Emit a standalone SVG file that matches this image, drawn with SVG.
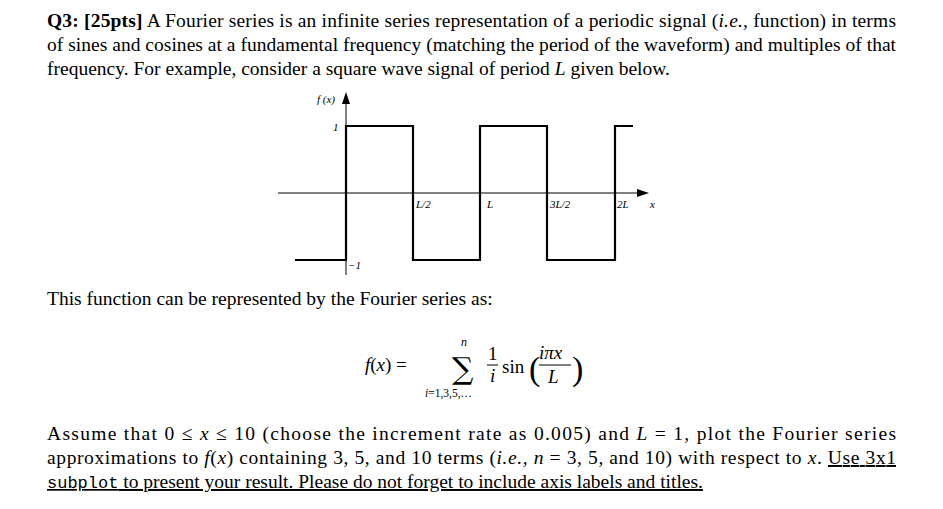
<svg xmlns="http://www.w3.org/2000/svg" width="943" height="509" viewBox="0 0 943 509">
<style>
.t{font-family:"Liberation Serif",serif;font-size:19.5px;fill:#000}
.s{font-family:"Liberation Serif",serif;font-size:11px;font-style:italic;fill:#000}
.m{font-family:"Liberation Serif","DejaVu Serif",serif;font-style:italic;fill:#000}
.w{fill:none;stroke:#000;stroke-width:2.2}
.a{fill:none;stroke:#000;stroke-width:1}
</style>
<rect width="943" height="509" fill="#fff"/>
<g id="text">
<text class="t" x="47" y="27" textLength="849" lengthAdjust="spacing"><tspan font-weight="bold">Q3: [25pts]</tspan> A Fourier series is an infinite series representation of a periodic signal (<tspan font-style="italic">i.e.,</tspan> function) in terms</text>
<text class="t" x="47" y="51" textLength="849" lengthAdjust="spacing">of sines and cosines at a fundamental frequency (matching the period of the waveform) and multiples of that</text>
<text class="t" x="47" y="75">frequency. For example, consider a square wave signal of period <tspan font-style="italic">L</tspan> given below.</text>
<text class="t" x="47" y="305">This function can be represented by the Fourier series as:</text>
<text class="t" x="47" y="440" textLength="849" lengthAdjust="spacing">Assume that  0 ≤ <tspan font-style="italic">x</tspan> ≤ 10  (choose the increment rate as 0.005) and  <tspan font-style="italic">L</tspan> = 1,  plot the Fourier series</text>
<text class="t" x="47" y="464" textLength="849" lengthAdjust="spacing">approximations to <tspan font-style="italic">f</tspan>(<tspan font-style="italic">x</tspan>) containing 3, 5, and 10 terms (<tspan font-style="italic">i.e.,</tspan> <tspan font-style="italic">n</tspan> = 3, 5, and 10) with respect to <tspan font-style="italic">x</tspan>. <tspan text-decoration="underline">Use 3x1</tspan></text>
<text class="t" x="47" y="488" text-decoration="underline"><tspan font-family="Liberation Mono,monospace" font-size="17">subplot</tspan> to present your result. Please do not forget to include axis labels and titles.</text>
</g>
<g id="graph">
<line class="a" x1="346" y1="275" x2="346" y2="104"/>
<polygon points="346,92 342,104 350,104"/>
<line class="a" x1="278" y1="193" x2="638" y2="193"/>
<polygon points="649,193 637,189 637,197"/>
<polyline class="w" points="295,260 346,260 346,126 413,126 413,260 480,260 480,126 547,126 547,260 615,260 615,126 633,126"/>
<text class="s" x="317" y="103">f (x)</text>
<text class="s" x="333" y="131" font-style="normal">1</text>
<text class="s" x="348" y="269" font-style="normal">−1</text>
<text class="s" x="416" y="208">L/2</text>
<text class="s" x="487" y="208">L</text>
<text class="s" x="550" y="208">3L/2</text>
<text class="s" x="617" y="208">2L</text>
<text class="s" x="650" y="208">x</text>
</g>
<g id="formula">
<text class="m" x="365" y="371" font-size="19">f<tspan font-style="normal">(</tspan>x<tspan font-style="normal">) =</tspan></text>
<text x="452" y="379" font-family="DejaVu Serif,serif" font-size="30">∑</text>
<text class="m" x="461" y="346" font-size="12">n</text>
<text class="m" x="425" y="397" font-size="11.5">i<tspan font-style="normal">=1,3,5,…</tspan></text>
<text x="488" y="360" font-family="Liberation Serif,serif" font-size="19">1</text>
<line class="a" x1="487" y1="365" x2="498" y2="365"/>
<text class="m" x="490" y="382" font-size="19">i</text>
<text x="502" y="373" font-family="Liberation Serif,serif" font-size="19">sin</text>
<text x="529" y="380" font-family="Liberation Serif,serif" font-size="34">(</text>
<text class="m" x="539" y="359" font-size="19">iπx</text>
<line class="a" x1="539" y1="365" x2="571" y2="365"/>
<text class="m" x="548" y="383" font-size="19">L</text>
<text x="572" y="380" font-family="Liberation Serif,serif" font-size="34">)</text>
</g>
</svg>
